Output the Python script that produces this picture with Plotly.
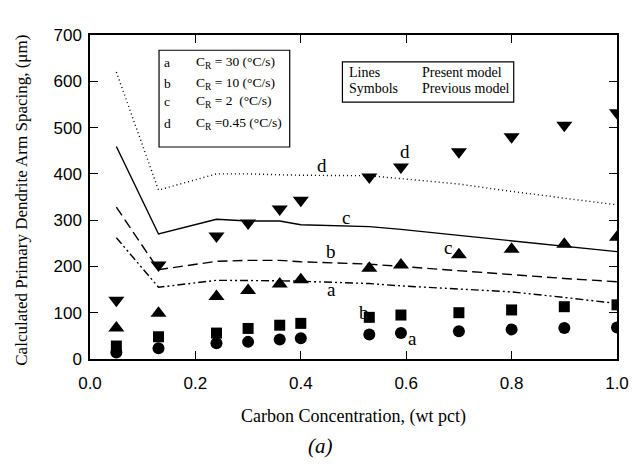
import plotly.graph_objects as go

# ---------------- data ----------------
carbon = [0.05, 0.13, 0.24, 0.30, 0.36, 0.40, 0.53, 0.59, 0.70, 0.80, 0.90, 1.0]

# Present model (lines)
line_a = [262, 155, 170, 170, 169, 168, 163, 158, 152, 145, 133, 120]   # CR = 30
line_b = [328, 193, 211, 213, 213, 210, 205, 200, 190, 182, 174, 167]   # CR = 10
line_c = [459, 270, 302, 298, 298, 290, 286, 280, 267, 255, 243, 232]   # CR = 2
line_d = [620, 365, 400, 400, 398, 397, 396, 390, 378, 362, 348, 333]   # CR = 0.45

# Previous model (symbols)
sym_a = [14, 23, 34, 37, 42, 45, 53, 56, 60, 64, 67, 68]
sym_b = [28, 48, 56, 66, 73, 77, 90, 95, 100, 106, 113, 117]
sym_c = [67, 99, 135, 148, 162, 171, 196, 203, 225, 237, 248, 263]
sym_d = [127, 203, 266, 294, 324, 343, 393, 415, 448, 480, 505, 532]

x_ticks = [0.0, 0.2, 0.4, 0.6, 0.8, 1.0]
y_ticks = [0, 100, 200, 300, 400, 500, 600, 700]

legend_letters = ["a", "b", "c", "d"]
legend_texts = ["C<sub>R</sub> = 30 (°C/s)", "C<sub>R</sub> = 10 (°C/s)",
                "C<sub>R</sub> = 2  (°C/s)", "C<sub>R</sub> =0.45 (°C/s)"]

SERIF = "Liberation Serif"
SANS = "Liberation Sans"

fig = go.Figure()

line_styles = [
    (line_a, "8px,3px,2px,3px,2px,3px"),
    (line_b, "10px,5px"),
    (line_c, "solid"),
    (line_d, "1px,3px"),
]
for ys, dash in line_styles:
    fig.add_trace(go.Scatter(x=carbon, y=ys, mode="lines",
                             line=dict(color="black", width=1.4, dash=dash),
                             showlegend=False, hoverinfo="skip"))

sym_styles = [
    (sym_a, "circle", 12),
    (sym_b, "square", 11),
    (sym_c, "triangle-up", 14),
    (sym_d, "triangle-down", 14),
]
for ys, sym, sz in sym_styles:
    fig.add_trace(go.Scatter(x=carbon, y=ys, mode="markers",
                             marker=dict(symbol=sym, size=sz, color="black",
                                         line=dict(width=0)),
                             showlegend=False, hoverinfo="skip"))

annotations = []
# curve labels
curve_labels = [
    ("d", 0.44, 418), ("c", 0.485, 305), ("b", 0.457, 232), ("a", 0.459, 150),
    ("d", 0.597, 449), ("c", 0.68, 240), ("b", 0.519, 100), ("a", 0.612, 45),
]
for t, xx, yy in curve_labels:
    annotations.append(dict(x=xx, y=yy, xref="x", yref="y", text=t, showarrow=False,
                            xanchor="center", yanchor="middle",
                            font=dict(family=SERIF, size=19, color="black")))

# legend box 1 content
legend_rows_y = [641, 596, 557, 508]
for letter, txt, yy in zip(legend_letters, legend_texts, legend_rows_y):
    annotations.append(dict(x=0.147, y=yy, xref="x", yref="y", text=letter,
                            showarrow=False, xanchor="center", yanchor="middle",
                            font=dict(family=SERIF, size=13.5, color="black")))
    annotations.append(dict(x=0.198, y=yy, xref="x", yref="y", text=txt,
                            showarrow=False, xanchor="left", yanchor="middle",
                            font=dict(family=SERIF, size=13.5, color="black")))

# legend box 2 content
for left, right, yy in [("Lines", "Present model", 618), ("Symbols", "Previous model", 585)]:
    annotations.append(dict(x=0.488, y=yy, xref="x", yref="y", text=left,
                            showarrow=False, xanchor="left", yanchor="middle",
                            font=dict(family=SERIF, size=14, color="black")))
    annotations.append(dict(x=0.627, y=yy, xref="x", yref="y", text=right,
                            showarrow=False, xanchor="left", yanchor="middle",
                            font=dict(family=SERIF, size=14, color="black")))

# axis titles and caption
annotations.append(dict(x=0.5, y=-0.176, xref="paper", yref="paper",
                        xanchor="center", yanchor="middle",
                        text="Carbon Concentration, (wt pct)", showarrow=False,
                        font=dict(family=SERIF, size=18, color="black")))
annotations.append(dict(x=-0.13, y=0.49, xref="paper", yref="paper", textangle=-90,
                        xanchor="center", yanchor="middle",
                        text="Calculated Primary Dendrite Arm Spacing, (μm)", showarrow=False,
                        font=dict(family=SERIF, size=17, color="black")))
annotations.append(dict(x=0.438, y=-0.27, xref="paper", yref="paper",
                        xanchor="center", yanchor="middle",
                        text="<i>(a)</i>", showarrow=False,
                        font=dict(family=SERIF, size=21, color="black")))

shapes = [
    dict(type="rect", xref="x", yref="y", x0=0.131, x1=0.379, y0=458, y1=667,
         line=dict(color="black", width=1.2), fillcolor="rgba(0,0,0,0)"),
    dict(type="rect", xref="x", yref="y", x0=0.479, x1=0.804, y0=555, y1=642,
         line=dict(color="black", width=1.2), fillcolor="rgba(0,0,0,0)"),
]

fig.update_layout(
    width=641, height=464,
    margin=dict(l=90, r=15, t=35, b=105),
    paper_bgcolor="white", plot_bgcolor="white",
    annotations=annotations, shapes=shapes,
    showlegend=False,
)
fig.update_xaxes(range=[0, 1.0], tickvals=x_ticks, ticktext=[f"{v:.1f}" for v in x_ticks],
                 showline=True, linecolor="black", linewidth=1.5, mirror="ticks",
                 ticks="inside", ticklen=8, tickwidth=1.2, tickcolor="black",
                 showgrid=False, zeroline=False, ticklabelstandoff=8,
                 tickfont=dict(family=SANS, size=17, color="black"))
fig.update_yaxes(range=[0, 700], tickvals=y_ticks,
                 showline=True, linecolor="black", linewidth=1.5, mirror="ticks",
                 ticks="inside", ticklen=8, tickwidth=1.2, tickcolor="black",
                 showgrid=False, zeroline=False, ticklabelstandoff=3,
                 tickfont=dict(family=SANS, size=17, color="black"))

fig.write_html("out.html", config={"displayModeBar": False},
               post_script="document.body.style.margin='0';document.body.style.overflow='hidden';")
